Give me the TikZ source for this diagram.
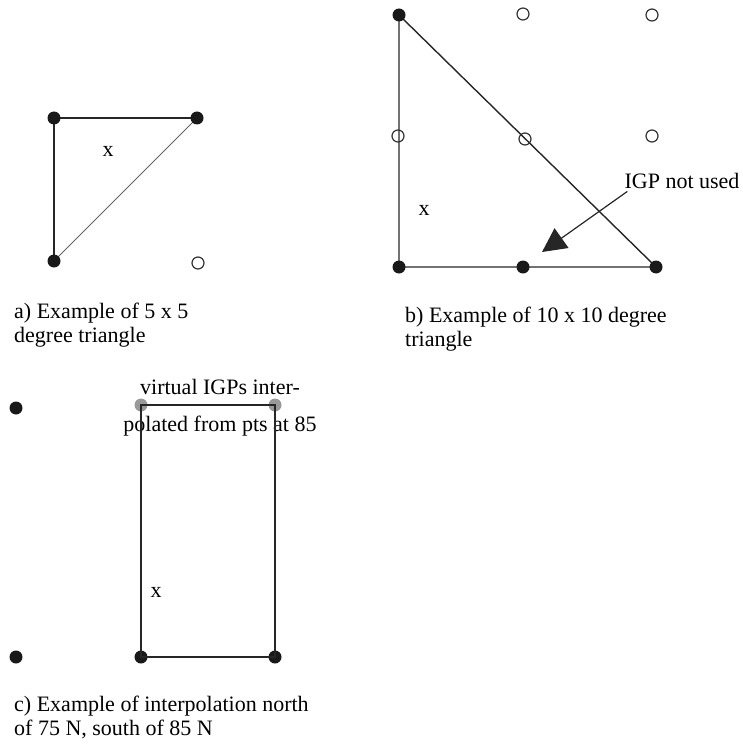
\documentclass[tikz,border=0pt]{standalone}
\usepackage{fontspec}
\setmainfont{Liberation Serif}
\usetikzlibrary{arrows.meta, backgrounds}

\tikzset{
    igp/.style={circle, fill=black!90, inner sep=0pt, minimum size=13pt},
    igpopen/.style={circle, draw=black!80, line width=1.2pt, inner sep=0pt, minimum size=12pt},
    igpvirtual/.style={circle, fill=black!40, inner sep=0pt, minimum size=13pt},
    edge/.style={draw=black!85, line width=1.4pt},
    label/.style={anchor=base, inner sep=0pt},
    caption/.style={anchor=base west, align=left, inner sep=0pt},
}

\begin{document}
\begin{tikzpicture}[x=1pt, y=-1pt, font=\fontsize{22}{24}\selectfont]

    \useasboundingbox (0,0) rectangle (743,746);

    % a) 5 x 5 degree triangle
    \node[igp] (a1) at (54,118) {};
    \node[igp] (a2) at (197,118) {};
    \node[igp] (a3) at (54,261) {};
    \node[igpopen] (a4) at (198,263) {};
    \node[label] (ax) at (108,157) {x};
    \node[caption] (acap) at (14,342) {a) Example of 5 x 5\\degree triangle};

    \begin{scope}[on background layer]
        \draw[edge, line width=2pt] (a3.center) -- (a1.center) -- (a2.center);
        \draw[black!60, line width=1pt] (a3.center) -- (a2.center);
    \end{scope}

    % b) 10 x 10 degree triangle
    \node[igp] (b1) at (399,15) {};
    \node[igp] (b2) at (399,267) {};
    \node[igp] (b3) at (523,267) {};
    \node[igp] (b4) at (656,267) {};
    \node[igpopen] (b5) at (523,14) {};
    \node[igpopen] (b6) at (652,15) {};
    \node[igpopen] (b7) at (398,136) {};
    \node[igpopen] (b8) at (525,139) {};
    \node[igpopen] (b9) at (652,136) {};
    \node[label] (bx) at (424,215) {x};
    \node[label] (igplabel) at (682,189) {IGP not used};
    \coordinate (unused) at (542,252);
    \node[caption] (bcap) at (405,346) {b) Example of 10 x 10 degree\\triangle};

    \begin{scope}[on background layer]
        \draw[edge] (b1.center) -- (b2.center) -- (b4.center) -- (b1.center);
    \end{scope}
    \draw[black!85, line width=1.2pt, -{Triangle[length=24pt, width=24pt]}]
        ([xshift=3pt, yshift=-2pt]igplabel.south west) -- (unused);

    % c) interpolation north of 75 N, south of 85 N
    \node[igp] (c1) at (16,408) {};
    \node[igp] (c2) at (16,657) {};
    \node[igpvirtual] (c3) at (141,405) {};
    \node[igpvirtual] (c4) at (275,405) {};
    \node[igp] (c5) at (141,657) {};
    \node[igp] (c6) at (275,657) {};
    \node[label] (cx) at (156,597) {x};
    \node[label] (vlabel) at (220,394) {virtual IGPs inter-};
    \node[label] (vlabel2) at (220,431) {polated from pts at 85};
    \node[caption] (ccap) at (14,735) {c) Example of interpolation north\\of 75 N, south of 85 N};

    \draw[edge, line width=2pt] (c5.center) -- (c3.center) -- (c4.center) -- (c6.center) -- cycle;

\end{tikzpicture}
\end{document}
